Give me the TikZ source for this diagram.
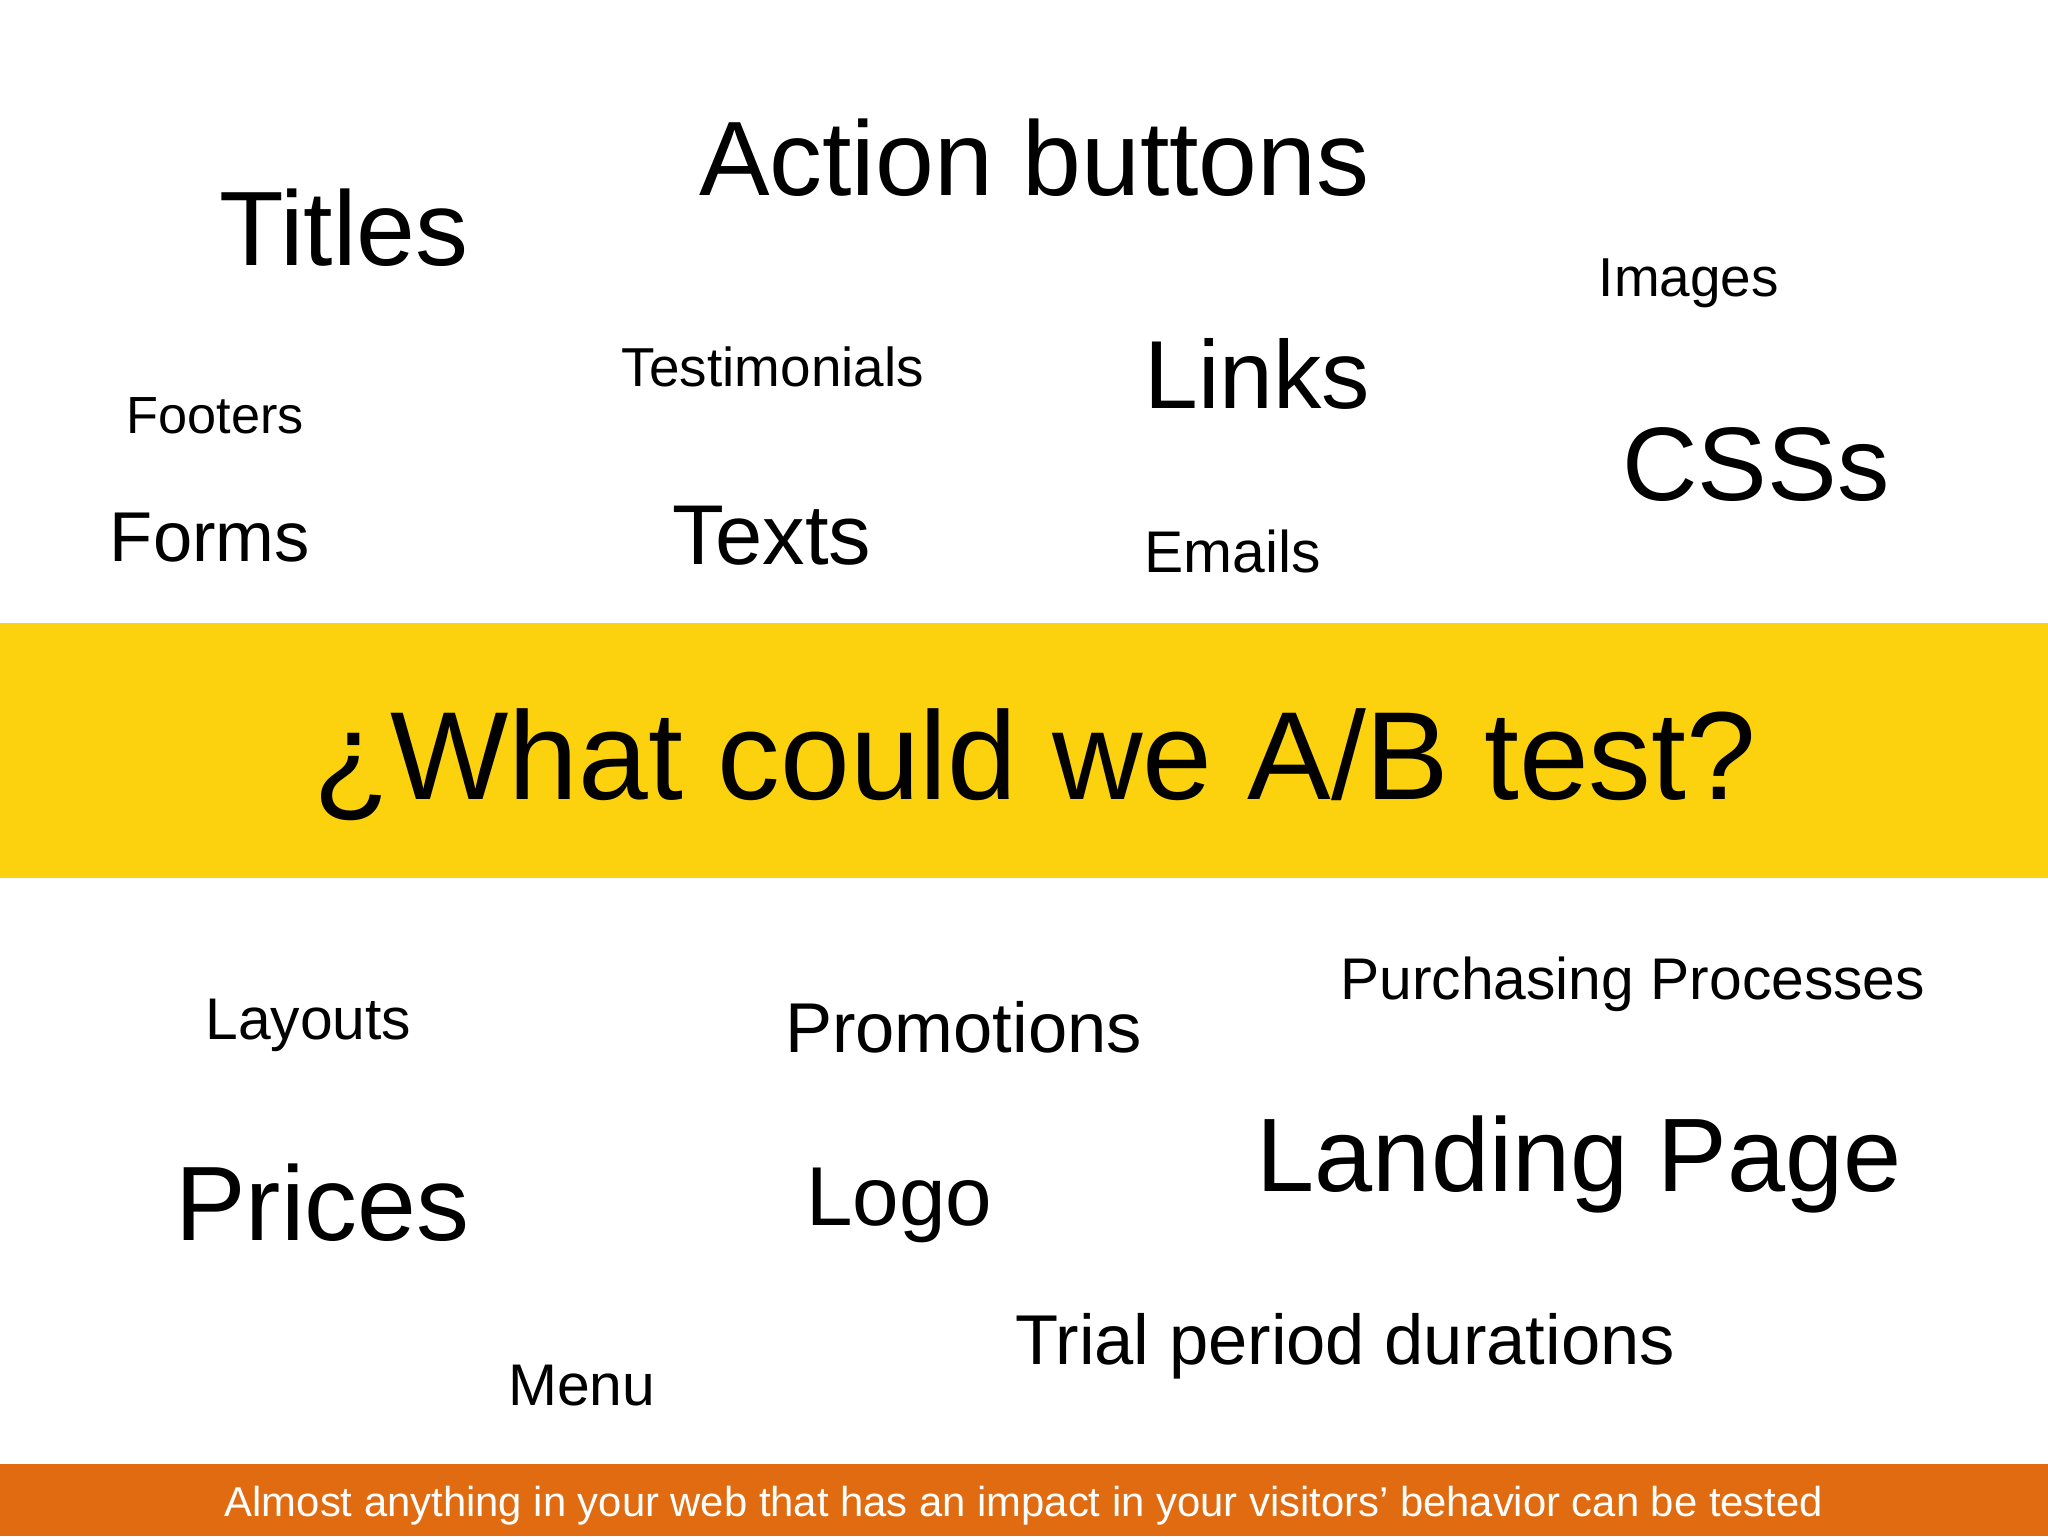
\documentclass[tikz,border=0pt]{standalone}
\usepackage{fontspec}
\setmainfont{Liberation Sans}
\definecolor{band}{HTML}{FCD20E}
\definecolor{foot}{HTML}{E06B10}
\begin{document}
\begin{tikzpicture}[x=1pt,y=-1pt,
  w/.style={anchor=base west,inner sep=0pt,font=\fontsize{#1}{#1}\selectfont}]
\useasboundingbox (0,0) rectangle (1568,1176);
\fill[white] (0,0) rectangle (1568,1176);
\fill[band] (0,477) rectangle (1568,672);
\fill[foot] (0,1121) rectangle (1568,1176);
\node[w=81] (ab) at (535,150) {Action buttons};
\node[w=81] (ti) at (168,203) {Titles};
\node[w=42] (im) at (1224,227) {Images};
\node[w=42] (te) at (476,296) {Testimonials};
\node[w=74] (li) at (876,313) {Links};
\node[w=40] (fo) at (97,332) {Footers};
\node[w=80] (cs) at (1242,383) {CSSs};
\node[w=54] (fm) at (84,430) {Forms};
\node[w=65] (tx) at (515,432) {Texts};
\node[w=45] (em) at (876,438) {Emails};
\node[w=96] (q) at (240,612) {¿What could we A/B test?};
\node[w=45] (la) at (157,796) {Layouts};
\node[w=54] (pr) at (601,806) {Promotions};
\node[w=45] (pp) at (1026,765) {Purchasing Processes};
\node[w=80] (lp) at (962,912) {Landing Page};
\node[w=81] (pc) at (134,950) {Prices};
\node[w=64] (lo) at (617,938) {Logo};
\node[w=54] (tr) at (777,1045) {Trial period durations};
\node[w=45] (me) at (389,1076) {Menu};
\node[anchor=base,inner sep=0pt,text=white,font=\fontsize{32}{32}\selectfont] (ft) at (784,1161) {Almost anything in your web that has an impact in your visitors’ behavior can be tested};
\end{tikzpicture}
\end{document}
